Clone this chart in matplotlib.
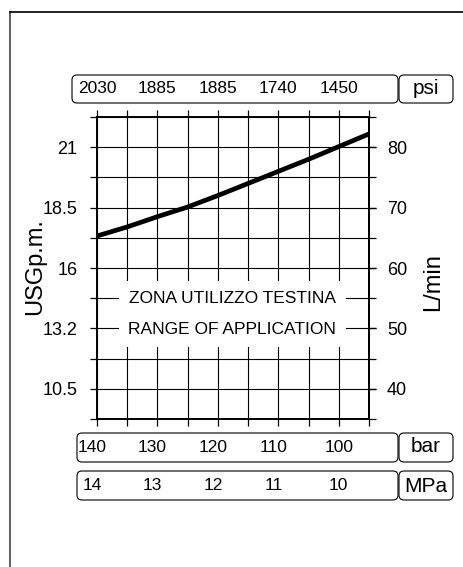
import matplotlib
matplotlib.use('Agg')
import matplotlib.pyplot as plt
import numpy as np
from matplotlib.patches import FancyBboxPatch
from matplotlib.lines import Line2D
from matplotlib.transforms import Affine2D, blended_transform_factory

plt.rcParams['font.family'] = ['Liberation Sans', 'DejaVu Sans']

# curve: pressure (bar) vs flow (L/min)
pressure_bar = [140, 135, 130, 125, 120, 115, 110, 105, 100, 95]
flow_lmin = [65.3, 66.8, 68.5, 70.1, 72.0, 74.0, 76.0, 78.0, 80.1, 82.2]

flow_ticks = [40, 50, 60, 70, 80]
flow_labels = ['40', '50', '60', '70', '80']
usg_labels = ['10.5', '13.2', '16', '18.5', '21']
bar_ticks = [140, 130, 120, 110, 100]
bar_labels = ['140', '130', '120', '110', '100']
psi_labels = ['2030', '1885', '1885', '1740', '1450']
mpa_labels = ['14', '13', '12', '11', '10']

W, H = 464, 567
fig = plt.figure(figsize=(W / 100, H / 100), dpi=100)
px = Affine2D().scale(1 / W, 1 / H) + fig.transFigure   # pixel coords, y up

ax = fig.add_axes([97 / W, 1 - 419 / H, (369 - 97) / W, (419 - 117) / H])
ax.plot(pressure_bar, flow_lmin, color='k', lw=3.4, zorder=4)
ax.set_xlim(140, 95)
ax.set_ylim(35, 85)
ax.set_xticks(np.arange(95, 141, 5))
ax.set_yticks(flow_ticks, labels=usg_labels)
ax.set_yticks(np.arange(35, 86, 5), minor=True)
ax.set_axisbelow(True)
ax.grid(which='both', color='k', lw=0.8)
ax.tick_params(which='both', direction='out', length=5, width=0.9,
               top=True, bottom=True, left=True, right=True,
               labelbottom=False, labelsize=13, pad=9)
for s in ax.spines.values():
    s.set_linewidth(1.4)

sec = ax.secondary_yaxis('right')
sec.set_yticks(flow_ticks, labels=flow_labels)
sec.tick_params(length=5, width=0.9, labelsize=13, pad=8)
sec.spines['right'].set_linewidth(1.4)

ax.text(117.6, 52.4, 'ZONA UTILIZZO TESTINA\nRANGE OF APPLICATION',
        ha='center', va='center', fontsize=12.5, linespacing=2.35, zorder=3,
        bbox=dict(boxstyle='square,pad=0.55', fc='white', ec='none'))

fig.text(35 / W, 1 - 267 / H, 'USGp.m.', rotation=90, ha='center', va='center', fontsize=17)
fig.text(433 / W, 1 - 282 / H, 'L/min', rotation=90, ha='center', va='center', fontsize=17)

# scale boxes
def box(x0, y0, x1, y1):
    fig.add_artist(FancyBboxPatch((x0, H - y1), x1 - x0, y1 - y0,
                                  boxstyle='round,pad=0,rounding_size=5',
                                  transform=px, fc='none', ec='k', lw=0.8))

box(72, 75, 398, 103)
box(399, 75, 453, 103)
box(77, 433, 398, 462)
box(399, 433, 453, 462)
box(77, 471, 398, 500)
box(399, 471, 453, 500)

tr = blended_transform_factory(ax.transData, fig.transFigure)
for b, p in zip(bar_ticks, psi_labels):
    ax.text(b, 1 - 89 / H, p, transform=tr, ha='center', va='center', fontsize=12.5, clip_on=False)
for b, l, m in zip(bar_ticks, bar_labels, mpa_labels):
    ax.text(b + (0 if b == 100 else 0.8), 1 - 447 / H, l, transform=tr, ha='center', va='center', fontsize=12.5, clip_on=False)
    ax.text(b + (0 if b == 100 else 0.8), 1 - 486 / H, m, transform=tr, ha='center', va='center', fontsize=12.5, clip_on=False)

fig.text(426 / W, 1 - 89 / H, 'psi', ha='center', va='center', fontsize=15)
fig.text(426 / W, 1 - 447 / H, 'bar', ha='center', va='center', fontsize=15)
fig.text(426 / W, 1 - 486 / H, 'MPa', ha='center', va='center', fontsize=15)

# drawing frame
fig.add_artist(Line2D([10, 10], [0, H - 12], transform=px, color='#444', lw=1.2))
fig.add_artist(Line2D([10, W], [H - 12, H - 12], transform=px, color='k', lw=1.2))

fig.savefig('out.png', dpi=100)
